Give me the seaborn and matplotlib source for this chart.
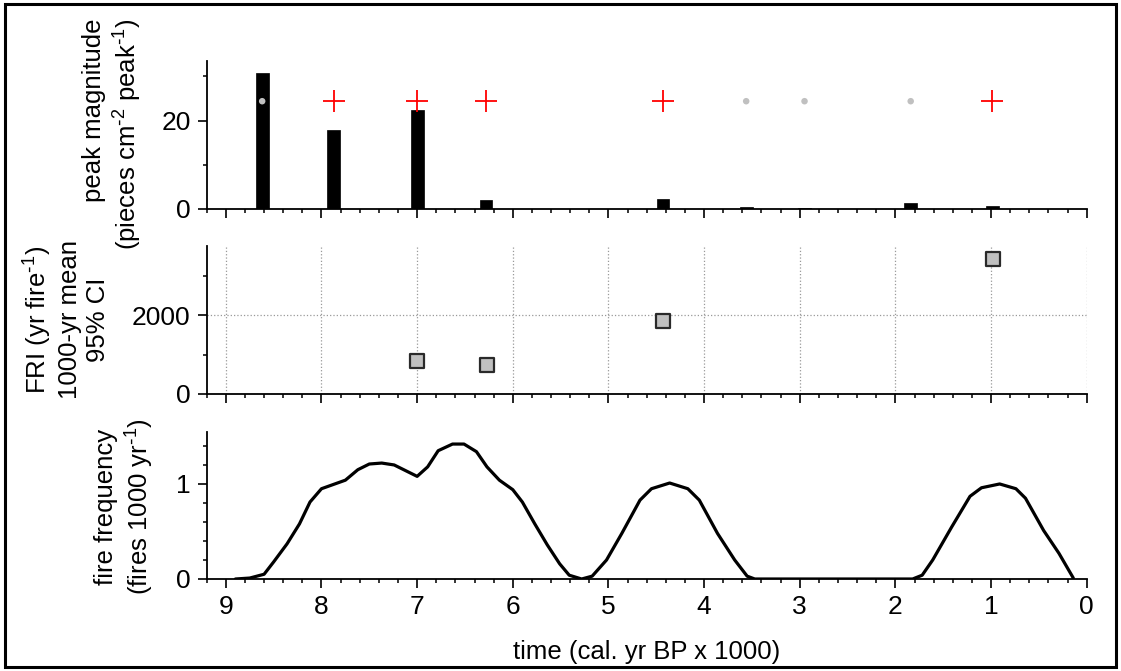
import numpy as np
import pandas as pd
import matplotlib
matplotlib.use("Agg")
import matplotlib.pyplot as plt
from matplotlib.patches import Rectangle
from matplotlib.ticker import MultipleLocator
import seaborn as sns

# ---------------- data ----------------
peak_age = [8.62, 7.87, 7.00, 6.28, 4.43, 3.56, 2.95, 1.84, 0.985]
peak_mag = [30.7, 17.9, 22.5, 2.0, 2.2, 0.35, 0.25, 1.3, 0.6]

sig_age = [7.87, 7.00, 6.28, 4.43, 0.985]
sig_level = [24.4, 24.4, 24.4, 24.4, 24.4]
nonsig_age = [8.62, 3.56, 2.95, 1.84]
nonsig_level = [24.4, 24.4, 24.4, 24.4]

fri_age = [7.00, 6.27, 4.43, 0.98]
fri_mean = [845, 740, 1850, 3435]

ff_age = [8.9, 8.75, 8.6, 8.5, 8.36, 8.23, 8.12, 8.0, 7.75, 7.62, 7.5, 7.37,
          7.24, 7.0, 6.89, 6.78, 6.63, 6.51, 6.38, 6.27, 6.14, 6.0, 5.9, 5.77,
          5.64, 5.51, 5.41, 5.28, 5.17, 5.02, 4.86, 4.67, 4.55, 4.36, 4.17,
          4.05, 3.86, 3.68, 3.55, 3.47, 1.82, 1.72, 1.61, 1.41, 1.22, 1.1,
          0.91, 0.74, 0.64, 0.45, 0.29, 0.14]
ff_val = [0.0, 0.01, 0.05, 0.18, 0.37, 0.58, 0.81, 0.95, 1.04, 1.15, 1.21, 1.22,
          1.20, 1.08, 1.18, 1.35, 1.42, 1.42, 1.34, 1.18, 1.04, 0.94, 0.81, 0.58,
          0.36, 0.16, 0.04, 0.0, 0.03, 0.2, 0.48, 0.83, 0.95, 1.01, 0.95,
          0.83, 0.48, 0.2, 0.03, 0.0, 0.0, 0.04, 0.2, 0.55, 0.87, 0.96,
          1.0, 0.95, 0.85, 0.51, 0.27, 0.01]

x_ticks = [9, 8, 7, 6, 5, 4, 3, 2, 1, 0]

# ---------------- style ----------------
sns.set_theme(style="ticks")
plt.rcParams["font.family"] = ["Liberation Sans", "DejaVu Sans"]
plt.rcParams["mathtext.default"] = "regular"

W, H = 1121, 671
fig = plt.figure(figsize=(W / 100, H / 100), dpi=100)
fig.patch.set_facecolor("white")

left_px, right_px = 206.7, 1086.7
panels_px = [(61, 209), (246, 393.7), (431.7, 579)]
axes = []
for top, bot in panels_px:
    ax = fig.add_axes([left_px / W, 1 - bot / H, (right_px - left_px) / W, (bot - top) / H])
    axes.append(ax)

TICK_FS = 19
LAB_FS = 18.5

for i, ax in enumerate(axes):
    ax.set_facecolor("white")
    ax.set_xlim(9.2, 0)
    ax.xaxis.set_major_locator(MultipleLocator(1))
    ax.xaxis.set_minor_locator(MultipleLocator(0.2))
    ax.set_xticks(x_ticks)
    for s in ["top", "right"]:
        ax.spines[s].set_visible(False)
    for s in ["left", "bottom"]:
        ax.spines[s].set_color("black")
        ax.spines[s].set_linewidth(1.3)
    ax.tick_params(which="major", length=6.5, width=1.2, color="black",
                   labelsize=TICK_FS, labelcolor="black", pad=5)
    ax.tick_params(which="minor", length=3.2, width=1.1, color="black")
    ax.tick_params(axis="x", which="both", direction="out")
    if i < 2:
        ax.tick_params(axis="x", labelbottom=False)

# ---- panel 1: peak magnitude ----
ax1 = axes[0]
ax1.bar(peak_age, peak_mag, width=0.135, color="black", edgecolor="black",
        linewidth=0.5, zorder=2)
sns.scatterplot(x=nonsig_age, y=nonsig_level, ax=ax1, color="#c0c0c0",
                s=22, edgecolor="none", zorder=3)
sns.scatterplot(x=sig_age, y=sig_level, ax=ax1, marker="+", color="red",
                s=250, linewidth=1.3, zorder=3)
ax1.set_ylim(0, 33.5)
ax1.yaxis.set_major_locator(MultipleLocator(20))
ax1.yaxis.set_minor_locator(MultipleLocator(10))

# ---- panel 2: FRI ----
ax2 = axes[1]
ax2.set_ylim(0, 3770)
ax2.yaxis.set_major_locator(MultipleLocator(2000))
ax2.yaxis.set_minor_locator(MultipleLocator(1000))
ax2.grid(True, which="major", color="#999999", linestyle=":", linewidth=0.9)
ax2.set_axisbelow(True)
sns.scatterplot(x=fri_age, y=fri_mean, ax=ax2, marker="s", color="#c0c0c0",
                edgecolor="#2a2a2a", linewidth=1.6, s=110, zorder=3)
ax2.set_xlim(9.2, 0)

# ---- panel 3: fire frequency ----
ax3 = axes[2]
ff = pd.DataFrame({"age": ff_age, "ff": ff_val})
sns.lineplot(data=ff, x="age", y="ff", ax=ax3, color="black", linewidth=2.3,
             sort=False, estimator=None)
ax3.set_ylim(0, 1.55)
ax3.yaxis.set_major_locator(MultipleLocator(1))
ax3.yaxis.set_minor_locator(MultipleLocator(0.2))
ax3.set_xlim(9.2, 0)
ax3.set_xticks(x_ticks)
ax3.set_xticklabels([str(t) for t in x_ticks])

for ax in axes:
    ax.set_xlabel("")
    ax.set_ylabel("")

# ---- axis labels as figure text ----
def ftext(xpx, ypx, s, **kw):
    fig.text(xpx / W, 1 - ypx / H, s, fontsize=LAB_FS, color="black", **kw)

SUP2 = r"$^{\text{-}2}$"
SUP1 = r"$^{\text{-}1}$"

ftext(113, 19, "peak magnitude\n(pieces cm" + SUP2 + " peak" + SUP1 + ")",
      rotation=90, ha="center", va="top", multialignment="right")
ftext(66, 320, "FRI (yr fire" + SUP1 + ")\n1000-yr mean\n95% CI",
      rotation=90, ha="center", va="center", multialignment="center")
ftext(125, 507, "fire frequency\n(fires 1000 yr" + SUP1 + ")",
      rotation=90, ha="center", va="center", multialignment="center")
ftext(646.7, 652, "time (cal. yr BP x 1000)", ha="center", va="center")

# ---- outer frame ----
fig.patches.append(Rectangle((5 / W, 4 / H), (1116 - 5) / W, (667 - 4) / H,
                             transform=fig.transFigure, fill=False,
                             edgecolor="black", linewidth=2.2))

fig.savefig("out.png", dpi=100, facecolor="white")
